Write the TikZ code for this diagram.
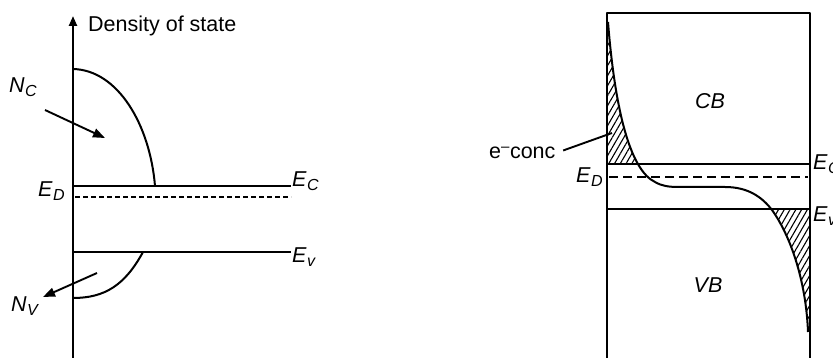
\documentclass[tikz,border=0pt]{standalone}
\usepackage{fontspec}
\setmainfont{Liberation Sans}
\usetikzlibrary{arrows.meta,patterns.meta}
\newcommand{\sublab}[2]{\textit{#1}\kern0.5pt\raisebox{-4pt}{\fontsize{16}{16}\selectfont\textit{#2}}}
\begin{document}
\begin{tikzpicture}[x=1pt,y=-1pt,line join=round,
  thickline/.style={line width=2.3pt},
  curveline/.style={line width=2pt},
  lab/.style={inner sep=0pt,font=\fontsize{21.5}{21.5}\selectfont,anchor=base west},
  bandlab/.style={inner sep=0pt,font=\fontsize{21.5}{21.5}\selectfont\itshape},
  hatch/.style={pattern={Lines[angle=60,distance=5pt,line width=1.1pt]}},
  ptr/.style={line width=1.9pt,-{Triangle[length=12pt,width=9pt]}}]
\useasboundingbox (0,0) rectangle (833,358);
% ---------- left panel ----------
\coordinate (axb) at (73,358);
\coordinate (axt) at (73,16);
\draw[line width=2.3pt,-{Triangle[length=10pt,width=8pt]}] (axb) -- (axt);
\node[lab] (dos) at (88,31.5) {Density of state};
\coordinate (nc0) at (73,69);
\coordinate (nc1) at (155,186);
\draw[curveline] (nc0) .. controls (118,70) and (150,125) .. (nc1);
\coordinate (ecl) at (73,186);
\coordinate (ecr) at (291,186);
\draw[thickline] (ecl) -- (ecr);
\coordinate (edl) at (75,197);
\coordinate (edr) at (291,197);
\draw[line width=1.9pt,dash pattern=on 5pt off 3pt] (edl) -- (edr);
\coordinate (evl) at (73,252);
\coordinate (evr) at (291,252);
\draw[thickline] (evl) -- (evr);
\coordinate (nv0) at (143,252);
\coordinate (nv1) at (73,298);
\draw[curveline] (nv0) .. controls (125,285) and (105,298) .. (nv1);
\node[lab] (NC) at (9,93) {\sublab{N}{C}};
\node[lab] (NV) at (11,312) {\sublab{N}{V}};
\node[lab] (ED1) at (38,197) {\sublab{E}{D}};
\node[lab] (EC1) at (292,187) {\sublab{E}{C}};
\node[lab] (EV1) at (292,262) {\sublab{E}{v}};
\coordinate (a1s) at (45,110);
\coordinate (a1e) at (105,138);
\draw[ptr] (a1s) -- (a1e);
\coordinate (a2s) at (97,273);
\coordinate (a2e) at (43,297);
\draw[ptr] (a2s) -- (a2e);
% ---------- right panel ----------
\def\bandcurve{(608,22) .. controls (615,110) and (630,170) .. (655,182)
  .. controls (662,186) and (668,187) .. (680,187) -- (725,187)
  .. controls (748,187) and (762,197) .. (772,210)
  .. controls (790,235) and (806,280) .. (808,332)}
\begin{scope}
  \clip (600,0) rectangle (812,164);
  \fill[hatch] \bandcurve -- (607,332) -- cycle;
\end{scope}
\begin{scope}
  \clip (600,209) rectangle (812,358);
  \fill[hatch] \bandcurve -- (810,332) -- (810,22) -- cycle;
\end{scope}
\draw[curveline] \bandcurve;
\coordinate (bxbl) at (607,358);
\coordinate (bxtl) at (607,13);
\coordinate (bxtr) at (810,13);
\coordinate (bxbr) at (810,358);
\draw[thickline] (bxbl) -- (bxtl) -- (bxtr) -- (bxbr);
\coordinate (rcl) at (607,164);
\coordinate (rcr) at (810,164);
\draw[thickline] (rcl) -- (rcr);
\coordinate (rdl) at (609,177);
\coordinate (rdr) at (808,177);
\draw[line width=1.9pt,dash pattern=on 9pt off 5pt] (rdl) -- (rdr);
\coordinate (rvl) at (607,209);
\coordinate (rvr) at (810,209);
\draw[thickline] (rvl) -- (rvr);
\node[bandlab] (CB) at (710,101) {CB};
\node[bandlab] (VB) at (708,285) {VB};
\node[lab] (ED2) at (576,183) {\sublab{E}{D}};
\node[lab] (EC2) at (813,170) {\sublab{E}{C}};
\node[lab] (EV2) at (813,222) {\sublab{E}{v}};
\node[lab] (econc) at (489,159) {e\textsuperscript{\textendash}conc};
\coordinate (cpt) at (612,133);
\draw[line width=1.9pt,shorten <=8pt] (econc.east) -- (cpt);
\end{tikzpicture}
\end{document}
